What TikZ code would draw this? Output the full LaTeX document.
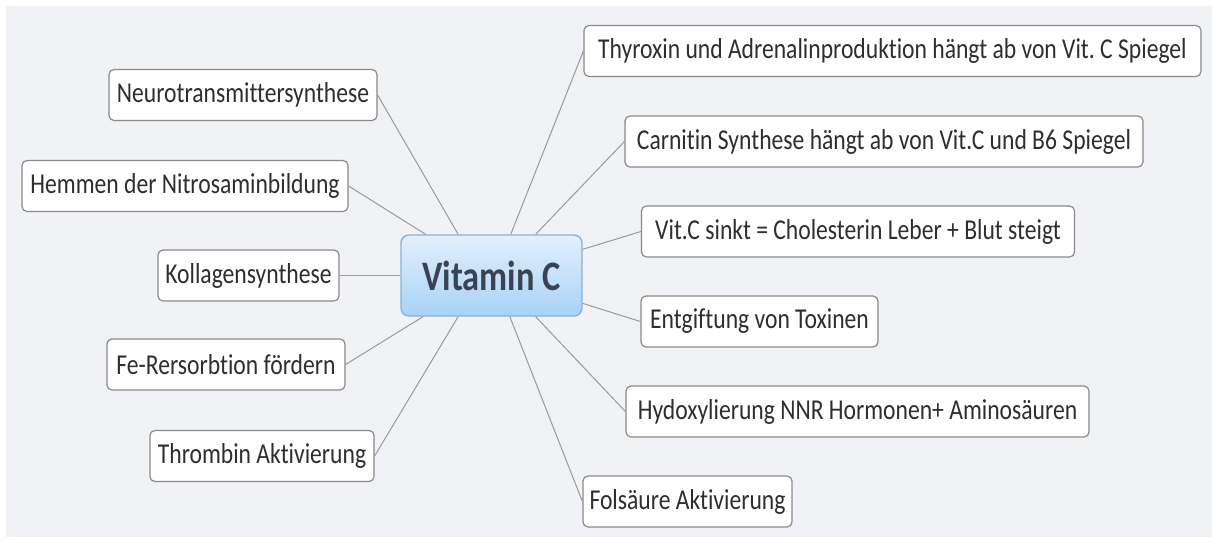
\documentclass[tikz,border=0pt]{standalone}
\usepackage{fontspec}
\setmainfont{Carlito}[FakeStretch=0.82, Ligatures=NoCommon]
\frenchspacing
\definecolor{bggrey}{HTML}{F1F2F6}
\definecolor{txtgrey}{HTML}{2E2E2E}
\definecolor{linegrey}{HTML}{9A9A9A}
\definecolor{boxgrey}{HTML}{8A8A8A}
\definecolor{vctop}{HTML}{E2F0FD}
\definecolor{vcbot}{HTML}{A8D2F6}
\definecolor{vcline}{HTML}{8FB0CF}
\definecolor{vctext}{HTML}{3C4350}

\begin{document}
\begin{tikzpicture}[x=0.5pt,y=-0.5pt,
  topic/.style={draw=boxgrey, line width=0.6pt, fill=white, rounded corners=2.5pt,
    minimum height=25.5pt, inner xsep=2pt, text=txtgrey,
    font=\fontsize{14.4pt}{16pt}\selectfont},
  central/.style={draw=vcline, line width=0.7pt, rounded corners=4pt,
    top color=vctop, bottom color=vcbot, minimum width=90.5pt, minimum height=40.5pt,
    text=vctext, font=\fontsize{21pt}{23pt}\selectfont\bfseries},
  branch/.style={draw=linegrey, line width=0.5pt}]
\useasboundingbox (0,0) rectangle (1212,542);
\fill[bggrey] (6,6) rectangle (1212,537);

\node[central] (vc) at (491.5,275.5) {Vitamin C};

% left side
\node[topic, minimum width=134pt] (neuro) at (243,95) {Neurotransmittersynthese};
\node[topic, minimum width=163pt] (nitro) at (185,186) {Hemmen der Nitrosaminbildung};
\node[topic, minimum width=90.5pt] (kollagen) at (248.5,275.5) {Kollagensynthese};
\node[topic, minimum width=119pt] (eisen) at (226,364.5) {Fe-Rersorbtion fördern};
\node[topic, minimum width=112pt] (thrombin) at (262,456) {Thrombin Aktivierung};

% right side
\node[topic, minimum width=308.5pt] (thyroxin) at (892.5,51) {Thyroxin und Adrenalinproduktion hängt ab von Vit. C Spiegel};
\node[topic, minimum width=259pt] (carnitin) at (884,141.5) {Carnitin Synthese hängt ab von Vit.C und B6 Spiegel};
\node[topic, minimum width=216.5pt] (chol) at (858,231.5) {Vit.C sinkt = Cholesterin Leber + Blut steigt};
\node[topic, minimum width=118.5pt] (toxin) at (759.5,321.5) {Entgiftung von Toxinen};
\node[topic, minimum width=231.5pt] (hydrox) at (857.5,411.5) {Hydoxylierung NNR Hormonen+ Aminosäuren};
\node[topic, minimum width=104.5pt] (folsaeure) at (687.5,501.5) {Folsäure Aktivierung};

\draw[branch] (vc.129) -- (neuro.east);
\draw[branch] (vc.148.7) -- (nitro.east);
\draw[branch] (vc.180) -- (kollagen.east);
\draw[branch] (vc.211.3) -- (eisen.east);
\draw[branch] (vc.231) -- (thrombin.east);
\draw[branch] (vc.65.4) -- (thyroxin.west);
\draw[branch] (vc.43) -- (carnitin.west);
\draw[branch] (vc.16.9) -- (chol.west);
\draw[branch] (vc.343.1) -- (toxin.west);
\draw[branch] (vc.317) -- (hydrox.west);
\draw[branch] (vc.294.6) -- (folsaeure.west);
\end{tikzpicture}
\end{document}
